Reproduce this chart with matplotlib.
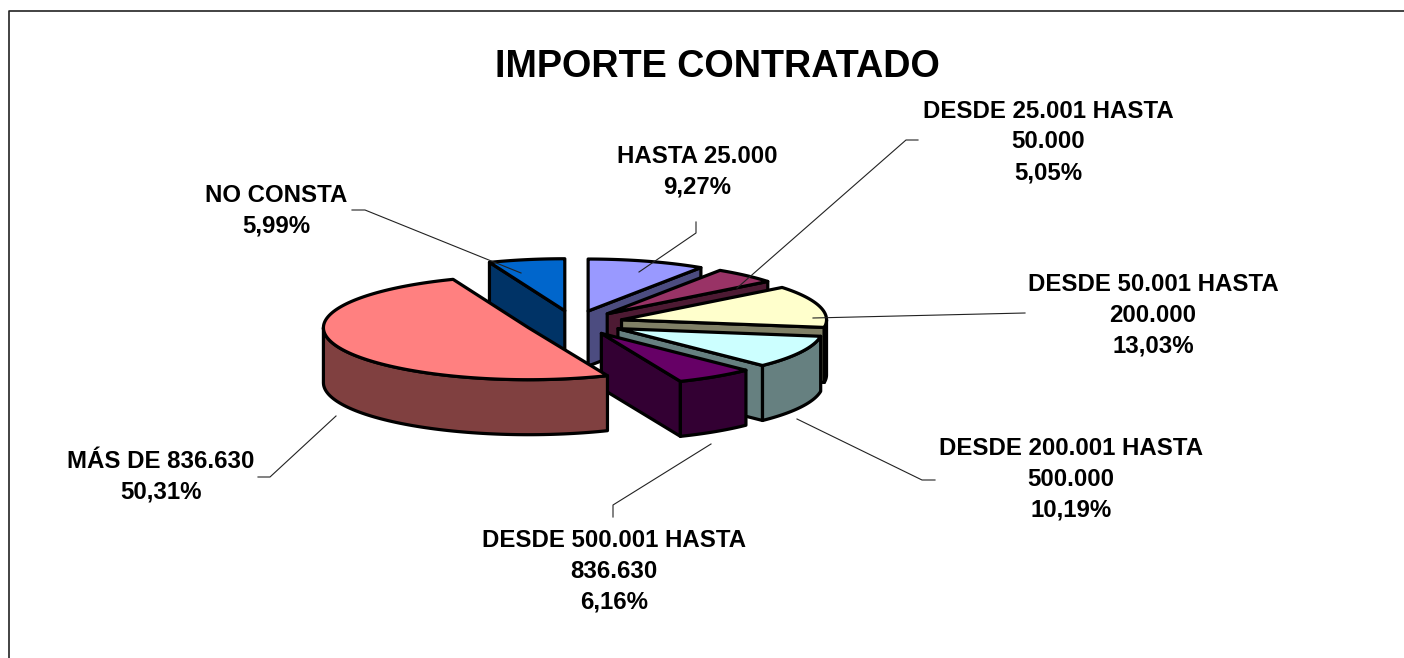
import numpy as np
from matplotlib import pyplot as plt
from matplotlib.patches import Polygon

# Chart data
title = 'IMPORTE CONTRATADO'
categories = ['HASTA 25.000', 'DESDE 25.001 HASTA\n50.000', 'DESDE 50.001 HASTA\n200.000',
              'DESDE 200.001 HASTA\n500.000', 'DESDE 500.001 HASTA\n836.630', 'MÁS DE 836.630', 'NO CONSTA']
values = [9.27, 5.05, 13.03, 10.19, 6.16, 50.31, 5.99]
colors = ['#9999FF', '#993366', '#FFFFCC', '#CCFFFF', '#660066', '#FF8080', '#0066CC']
side_colors = ['#4C4C80', '#4D1A33', '#808066', '#668080', '#330033', '#804040', '#003366']

# Label centres and leader lines, in pixels
label_pos = [(697, 172), (1048, 142), (1153, 315), (1071, 479), (614, 571), (161, 477), (276, 211)]
leaders = [[(696, 222), (696, 233), (639, 272)],
           [(918, 140), (906, 140), (737, 288)],
           [(1025, 313), (813, 318)],
           [(935, 480), (922, 480), (797, 419)],
           [(613, 517), (613, 505), (711, 444)],
           [(258, 477), (270, 477), (336, 416)],
           [(352, 210), (365, 210), (521, 273)]]

# Pie geometry, in pixels
cx, cy = 574, 323
rx, ry = 205, 52
depth = 55
explode = 0.24
draw_order = [6, 0, 1, 2, 3, 4, 5]  # back to front
edge_w = 2.3

plt.rcParams['font.family'] = ['Liberation Sans', 'DejaVu Sans']
fig = plt.figure(figsize=(14.04, 6.58), dpi=100)
ax = fig.add_axes([0, 0, 1, 1])
ax.set_xlim(0, 1404)
ax.set_ylim(658, 0)
ax.axis('off')


def rim(ox, oy, angles):
    return np.column_stack([ox + rx * np.sin(angles), oy - ry * np.cos(angles)])


def face(points, color, zorder):
    ax.add_patch(Polygon(points, closed=True, facecolor=color, edgecolor='black',
                         linewidth=edge_w, joinstyle='round', zorder=zorder))


def side_wall(top_points, color, zorder):
    bottom = top_points[::-1] + [0, depth]
    face(np.vstack([top_points, bottom]), color, zorder)


def draw_slice(start, end, color, side, zorder):
    mid = (start + end) / 2
    ox = cx + explode * rx * np.sin(mid)
    oy = cy - explode * ry * np.cos(mid)
    apex = np.array([[ox, oy]])

    # radial walls turned towards the viewer
    if np.cos(start - np.pi / 2) < -1e-6:
        side_wall(np.vstack([apex, rim(ox, oy, np.array([start]))]), side, zorder)
    if np.cos(end + np.pi / 2) < -1e-6:
        side_wall(np.vstack([apex, rim(ox, oy, np.array([end]))]), side, zorder)

    # the part of the outer wall in front (between 90 and 270 degrees)
    lo, hi = max(start, np.pi / 2), min(end, 3 * np.pi / 2)
    if hi > lo:
        side_wall(rim(ox, oy, np.linspace(lo, hi, 80)), side, zorder)

    arc = rim(ox, oy, np.linspace(start, end, 120))
    face(np.vstack([apex, arc]), color, zorder + 0.5)


# Outer frame: only top and left edges are visible
ax.plot([9, 9, 1404], [658, 11, 11], color='#222222', lw=1.2, zorder=1)

bounds = np.cumsum([0] + values) / sum(values) * 2 * np.pi
for n, i in enumerate(draw_order):
    draw_slice(bounds[i], bounds[i + 1], colors[i], side_colors[i], 2 + n)

for line in leaders:
    xs, ys = zip(*line)
    ax.plot(xs, ys, color='#222222', lw=0.8, zorder=20)

for name, val, (x, y) in zip(categories, values, label_pos):
    text = name + '\n' + f'{val:.2f}'.replace('.', ',') + '%'
    ax.text(x, y, text, ha='center', va='center', fontsize=17.3, fontweight='bold',
            linespacing=1.42, zorder=21)

ax.text(717, 67, title, ha='center', va='center', fontsize=27.2, fontweight='bold', zorder=21)

fig.savefig('out.png', dpi=100)
